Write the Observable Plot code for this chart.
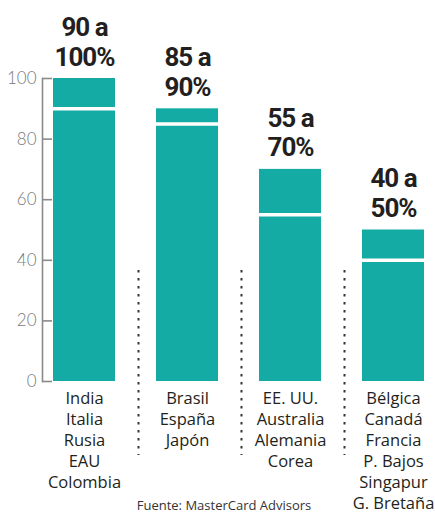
<!DOCTYPE html>
<html><head><meta charset="utf-8">
<script src="https://cdn.jsdelivr.net/npm/d3@7"></script>
<script src="https://cdn.jsdelivr.net/npm/@observablehq/plot@0.6"></script>
<style>
body{margin:0;background:#fff;overflow:hidden;}
#wrap{position:relative;width:435px;height:515px;}
#cap{position:absolute;left:0;top:497px;font-family:"Open Sans";font-size:13px;color:#333;text-align:center;width:435px;padding-left:13px;box-sizing:border-box;line-height:16px;}
g[aria-label="text"] text{letter-spacing:-1px;}
</style></head><body>
<div id="wrap"><div id="chart"></div><div id="cap"></div></div>
<script>
const countries = [
  "India\nItalia\nRusia\nEAU\nColombia",
  "Brasil\nEspaña\nJapón",
  "EE. UU.\nAustralia\nAlemania\nCorea",
  "Bélgica\nCanadá\nFrancia\nP. Bajos\nSingapur\nG. Bretaña"
];
const lowValues = [90, 85, 55, 40];
const highValues = [100, 90, 70, 50];
const yTicks = [0, 20, 40, 60, 80, 100];
const source = "Fuente: MasterCard Advisors";

const data = countries.map((c, i) => ({group: c, low: lowValues[i], high: highValues[i]}));

const plot = Plot.plot({
  width: 435, height: 515,
  marginTop: 78, marginBottom: 134, marginLeft: 42, marginRight: 9,
  x: {domain: countries, insetLeft: 10, paddingInner: 0.394, paddingOuter: 0},
  y: {domain: [0, 100]},
  marks: [
    Plot.barY(data, {x: "group", y: "high", fill: "#14aba4"}),
    Plot.tickY(data, {x: "group", y: "low", stroke: "#fff", strokeWidth: 3.5}),
    Plot.ruleX(countries.slice(1), {x: d => d, dx: -49, insetTop: 192, insetBottom: -74, stroke: "#333", strokeWidth: 2, strokeDasharray: "2.5,5.5"}),
    Plot.frame({anchor: "left", stroke: "#8a8a8a", strokeWidth: 1.6}),
    Plot.axisY({ticks: yTicks, tickSize: 10, dx: 10, tickPadding: 6, stroke: "#8a8a8a", strokeWidth: 1.6, fill: "#7a7a7a", fontSize: 17, fontFamily: "Lato", fontWeight: 300, label: null}),
    Plot.axisX({tickSize: 0, tickPadding: 8, fontSize: 16.5, fontFamily: "Open Sans", fill: "#231f20", lineHeight: 1.27, label: null}),
    Plot.text(data, {x: "group", y: "high", text: d => `${d.low} a\n${d.high}%`, lineAnchor: "bottom", dy: -13, fontSize: 26, fontWeight: 700, fontFamily: "Roboto", fill: "#231f20", lineHeight: 1.15})
  ]
});
document.getElementById("chart").appendChild(plot);
document.getElementById("cap").textContent = source;
</script>
</body></html>
